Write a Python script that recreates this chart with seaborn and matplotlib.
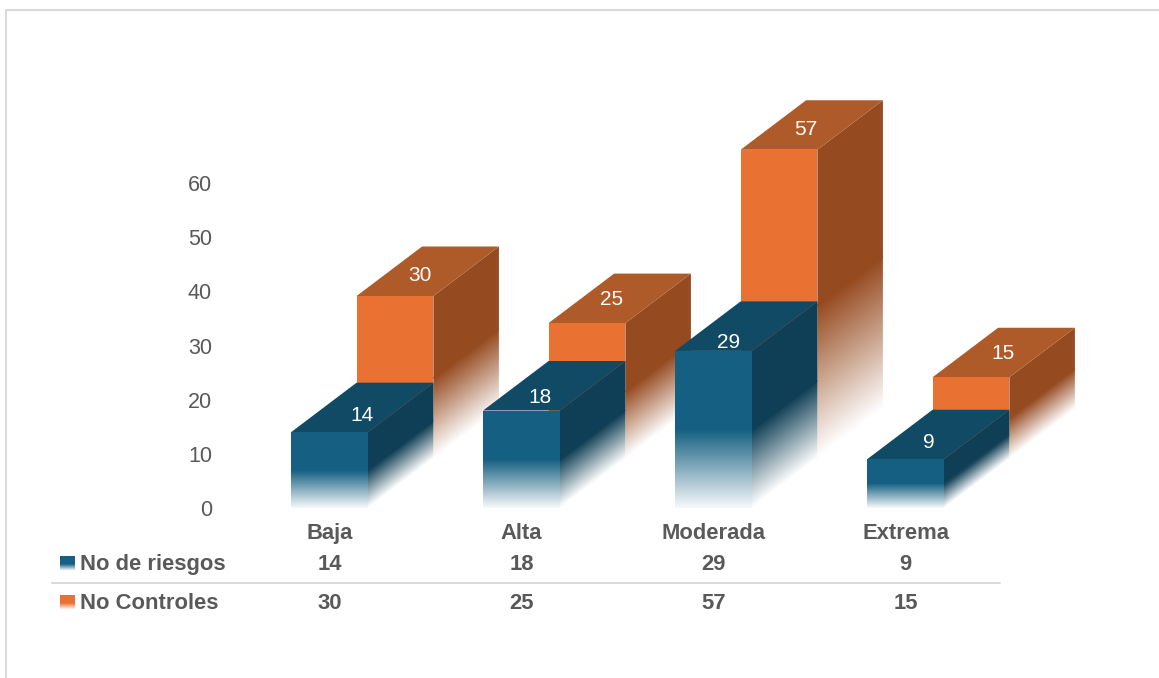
import matplotlib
matplotlib.use("Agg")
import matplotlib.pyplot as plt
import numpy as np
import pandas as pd
import seaborn as sns
from matplotlib.lines import Line2D
from matplotlib.patches import Polygon
from matplotlib.transforms import Affine2D

# ── Data ──────────────────────────────────────────────────────────────────
categories = ["Baja", "Alta", "Moderada", "Extrema"]
riesgos = [14, 18, 29, 9]
controles = [30, 25, 57, 15]
y_ticks = [0, 10, 20, 30, 40, 50, 60]

# ── Style ─────────────────────────────────────────────────────────────────
BLUE_FRONT, BLUE_SIDE, BLUE_TOP = "#156082", "#0F3F56", "#114A64"
ORANGE_FRONT, ORANGE_SIDE, ORANGE_TOP = "#E97132", "#964A1F", "#AF5A29"
GREY_TEXT = "#595959"
GREY_LINE = "#D9D9D9"

W, H = 1159, 678
BAR_WIDTH = 0.4
DEPTH_X = 65.5 / 192      # 3D offset in category units
DEPTH_Y = 49.5 / 5.417    # 3D offset in value units

# label offsets in pixels from the top front-centre of each bar
riesgos_label_dx, riesgos_label_dy = [33, 19, 15, 23], [16.5, 13, 8.5, 16.5]
controles_label_dx, controles_label_dy = [25, 25, 27, 32], [21, 23.5, 20.5, 23.5]

sns.set_theme(style="white")
plt.rcParams["font.family"] = ["Liberation Sans", "DejaVu Sans"]

fig = plt.figure(figsize=(W / 100, H / 100), dpi=100, facecolor="white")
ax = fig.add_axes([233.5 / W, (H - 508) / H, 768 / W, 325 / H])


def fx(px):
    return px / W


def fy(py):
    return 1 - py / H


def mix(color, t):
    rgb = np.array(matplotlib.colors.to_rgb(color))
    return rgb * t + (1 - t)


def fade_face(x0, x1, y0_left, y0_right, h, color, fade_frac, zorder, floor=0.0):
    # opaque colour-to-white image skewed onto the lower part of a face
    t = np.linspace(floor, 1, 64)
    img = np.array([mix(color, s) for s in t])[:, None, :]
    skew = Affine2D.from_values(x1 - x0, y0_right - y0_left, 0, h * fade_frac, x0, y0_left)
    im = ax.imshow(img, extent=(0, 1, 0, 1), origin="lower", aspect="auto",
                   interpolation="bilinear", transform=skew + ax.transData,
                   zorder=zorder)
    top = h * fade_frac
    outline = Polygon([(x0, y0_left), (x1, y0_right), (x1, y0_right + top), (x0, y0_left + top)],
                      closed=True, transform=ax.transData)
    # the faces run past the axes box, so clip to the figure and the outline only
    im.set_clip_box(fig.bbox)
    im.set_clip_path(outline)


def draw_box_3d(x_left, base, value, side, top, z):
    x_right = x_left + BAR_WIDTH
    # side face
    fade_face(x_right, x_right + DEPTH_X, base, base + DEPTH_Y, value, side, 0.5, z)
    y_mid = base + value * 0.49
    ax.add_patch(Polygon(
        [(x_right, y_mid), (x_right + DEPTH_X, y_mid + DEPTH_Y),
         (x_right + DEPTH_X, base + value + DEPTH_Y), (x_right, base + value)],
        closed=True, facecolor=side, edgecolor="none", zorder=z + 0.1, clip_on=False))
    # top face
    ax.add_patch(Polygon(
        [(x_left, base + value), (x_right, base + value),
         (x_right + DEPTH_X, base + value + DEPTH_Y), (x_left + DEPTH_X, base + value + DEPTH_Y)],
        closed=True, facecolor=top, edgecolor="none", zorder=z + 0.1, clip_on=False))


positions = np.arange(len(categories), dtype=float)
df = pd.DataFrame({
    "categoria": categories,
    "pos": positions,
    "pos_back": positions + DEPTH_X,
    "riesgos": riesgos,
    "controles": controles,
})

# ── Back row: No Controles ────────────────────────────────────────────────
sns.barplot(data=df, x="pos_back", y="controles", native_scale=True, color=ORANGE_FRONT,
            saturation=1, width=BAR_WIDTH, errorbar=None, bottom=DEPTH_Y, linewidth=0,
            zorder=2, ax=ax)
for i, v in enumerate(controles):
    draw_box_3d(positions[i] + DEPTH_X - BAR_WIDTH / 2, DEPTH_Y, v, ORANGE_SIDE, ORANGE_TOP, 1)

# ── Front row: No de riesgos ──────────────────────────────────────────────
sns.barplot(data=df, x="pos", y="riesgos", native_scale=True, color=BLUE_FRONT,
            saturation=1, width=BAR_WIDTH, errorbar=None, linewidth=0,
            zorder=4, ax=ax)
for i, v in enumerate(riesgos):
    x_left = positions[i] - BAR_WIDTH / 2
    draw_box_3d(x_left, 0, v, BLUE_SIDE, BLUE_TOP, 3)
    fade_face(x_left, x_left + BAR_WIDTH, 0, 0, v, BLUE_FRONT, 0.5, 4.5, floor=0.04)

# the boxes stick out above 60 and past the last category
for bar in ax.patches:
    bar.set_clip_on(False)

# ── Value labels on the top faces ─────────────────────────────────────────
for i, v in enumerate(riesgos):
    ax.annotate(str(v), (positions[i], v), xytext=(riesgos_label_dx[i], riesgos_label_dy[i]),
                textcoords="offset pixels", ha="center", va="center", color="white",
                fontsize=15, zorder=6, annotation_clip=False)
for i, v in enumerate(controles):
    ax.annotate(str(v), (positions[i] + DEPTH_X, DEPTH_Y + v),
                xytext=(controles_label_dx[i], controles_label_dy[i]),
                textcoords="offset pixels", ha="center", va="center", color="white",
                fontsize=15, zorder=6, annotation_clip=False)

# ── Axes ──────────────────────────────────────────────────────────────────
ax.set_xlim(-0.5, 3.5)
ax.set_ylim(0, 60)
ax.set_yticks(y_ticks)
ax.set_xticks([])
ax.set_xlabel("")
ax.set_ylabel("")
ax.tick_params(axis="y", length=0, pad=15.5, labelcolor=GREY_TEXT, labelsize=15.5)
sns.despine(ax=ax, left=True, bottom=True)
ax.patch.set_alpha(0)

# ── Data table under the plot ─────────────────────────────────────────────
table_font = dict(fontsize=15.8, fontweight="bold", color=GREY_TEXT, va="center")
row_cat, row_r, row_c = 533.5, 564.5, 603.5
for i, cat in enumerate(categories):
    x_px = 329.5 + 192 * i
    fig.text(fx(x_px), fy(row_cat), cat, ha="center", **table_font)
    fig.text(fx(x_px), fy(row_r), str(riesgos[i]), ha="center", **table_font)
    fig.text(fx(x_px), fy(row_c), str(controles[i]), ha="center", **table_font)
fig.text(fx(80), fy(row_r), "No de riesgos", ha="left", **table_font)
fig.text(fx(80), fy(row_c), "No Controles", ha="left", **table_font)
fig.add_artist(Line2D([fx(52), fx(1000)], [fy(583), fy(583)], color=GREY_LINE, lw=1.4))

# legend keys
for row, color in [(row_r, BLUE_FRONT), (row_c, ORANGE_FRONT)]:
    key = fig.add_axes([fx(60), fy(row + 6.5), 15 / W, 15 / H])
    shade = np.clip(np.linspace(1, 0, 30) / 0.45, 0.03, 1)
    key.imshow([[mix(color, s)] for s in shade], aspect="auto", interpolation="nearest")
    key.axis("off")

# ── Outer frame (top and left edges only) ────────────────────────────────
fig.add_artist(Line2D([fx(6), fx(6), fx(1159)], [fy(678), fy(10), fy(10)],
                      color=GREY_LINE, lw=1.5))

fig.savefig("out.png", dpi=100, facecolor="white")
